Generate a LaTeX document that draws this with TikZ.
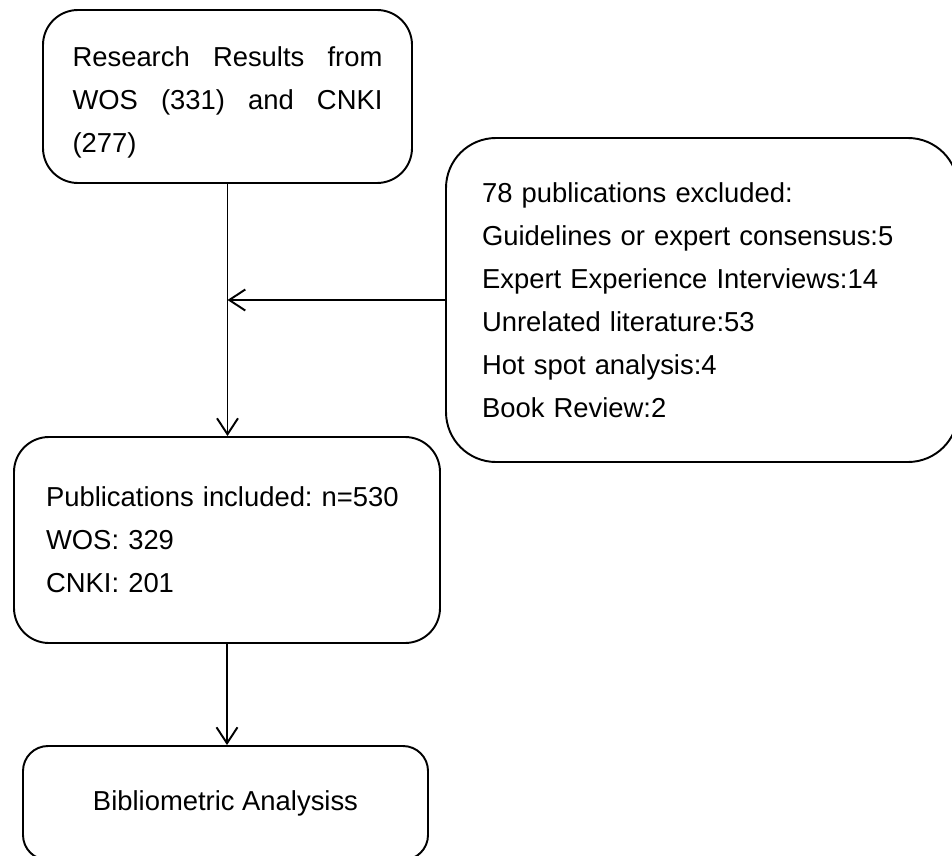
\documentclass[tikz,border=0pt]{standalone}
\usepackage{fontspec}
\setmainfont{Liberation Sans}
\usetikzlibrary{arrows.meta}

\tikzset{
	flowbox/.style={draw, line width=1.1pt, rounded corners=#1, inner sep=0pt,
		font=\fontsize{15.6pt}{24.5pt}\selectfont\frenchspacing, align=left},
	flowarr/.style={line width=1.1pt, -{Straight Barb[length=0.32cm,width=0.42cm,line width=1.1pt]}}
}

\begin{document}
\begin{tikzpicture}[x=0.02cm, y=-0.02cm]
	\path[use as bounding box, clip] (0,0) rectangle (952,855);
	\node[flowbox=0.7cm, minimum width=369*0.02cm, minimum height=173*0.02cm, text width=6.2cm] (search) at (227.5,96.5)
		{\rule{0pt}{0.64cm}Research\hfill Results\hfill from\\ WOS\hfill (331)\hfill and\hfill CNKI\\ (277)};
	\node[flowbox=1cm, minimum width=512*0.02cm, minimum height=324*0.02cm, text width=8.8cm] (excluded) at (702,300)
		{78 publications excluded:\\ Guidelines or expert consensus:5\\ Expert Experience Interviews:14\\ Unrelated literature:53\\ Hot spot analysis:4\\ Book Review:2};
	\node[flowbox=0.7cm, minimum width=426*0.02cm, minimum height=206*0.02cm, text width=7.24cm] (included) at (227,540)
		{Publications included: n=530\\ WOS: 329\\ CNKI: 201};
	\node[flowbox=0.5cm, minimum width=405*0.02cm, minimum height=114*0.02cm, align=center] (analysis) at (225.5,803)
		{Bibliometric Analysiss};
	\draw[flowarr] (search.south) -- (search.south |- included.north);
	\draw[flowarr] (excluded.west) -- (excluded.west -| search.south);
	\draw[flowarr] (included.south) -- (included.south |- analysis.north);
\end{tikzpicture}
\end{document}
